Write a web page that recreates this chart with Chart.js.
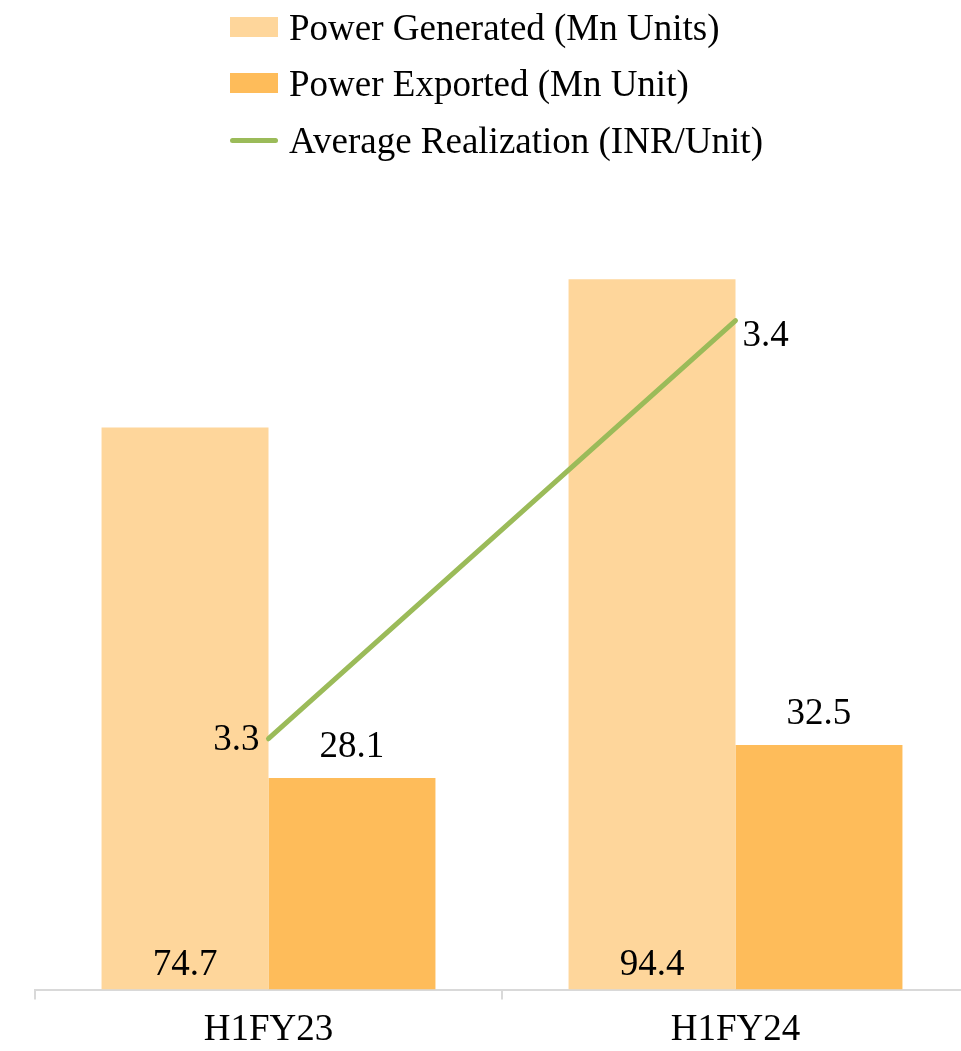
<!DOCTYPE html>
<html>
<head>
<meta charset="utf-8">
<script src="https://cdn.jsdelivr.net/npm/chart.js@4.4.0/dist/chart.umd.min.js"></script>
<style>
  html, body { margin: 0; padding: 0; background: #fff; overflow: hidden; }
  #wrap { position: relative; width: 980px; height: 1060px; }
  #legend { position: absolute; left: 230px; top: 0; font-family: "Liberation Serif", "Times New Roman", serif; font-size: 37px; color: #000; }
  .item { position: absolute; left: 0; height: 40px; display: flex; align-items: center; white-space: nowrap; }
  .sw { width: 48px; height: 20px; margin-right: 11px; }
  .ln { width: 48px; height: 5px; border-radius: 3px; margin-right: 11px; }
</style>
</head>
<body>
<div id="wrap">
  <canvas id="powerChart" width="980" height="1060"></canvas>
  <div id="legend"></div>
</div>
<script>
// Chart data
const categories = ['H1FY23', 'H1FY24'];
const powerGenerated = [74.7, 94.4];
const powerExported = [28.1, 32.5];
const avgRealization = [3.3, 3.4];

const seriesLabels = ['Power Generated (Mn Units)', 'Power Exported (Mn Unit)', 'Average Realization (INR/Unit)'];
const colors = ['#fed69b', '#febc5a', '#9bbb59'];
const fontFamily = '"Liberation Serif", "Times New Roman", serif';

// Draw the value labels next to bars and line points
const valueLabels = {
  id: 'valueLabels',
  afterDatasetsDraw(chart) {
    const ctx = chart.ctx;
    ctx.save();
    ctx.font = '37px ' + fontFamily;
    ctx.fillStyle = '#000';
    ctx.textBaseline = 'middle';

    chart.getDatasetMeta(0).data.forEach((bar, i) => {
      ctx.textAlign = 'center';
      ctx.fillText(powerGenerated[i].toFixed(1), bar.x, bar.base - 24);
    });

    chart.getDatasetMeta(1).data.forEach((bar, i) => {
      ctx.textAlign = 'center';
      ctx.fillText(powerExported[i].toFixed(1), bar.x, bar.y - 31);
    });

    chart.getDatasetMeta(2).data.forEach((pt, i) => {
      if (i === 0) {
        ctx.textAlign = 'right';
        ctx.fillText(avgRealization[i].toFixed(1), pt.x - 9, pt.y + 2);
      } else {
        ctx.textAlign = 'left';
        ctx.fillText(avgRealization[i].toFixed(1), pt.x + 7, pt.y + 16);
      }
    });
    ctx.restore();
  }
};

const chart = new Chart(document.getElementById('powerChart'), {
  type: 'bar',
  data: {
    labels: categories,
    datasets: [
      {
        label: seriesLabels[0],
        data: powerGenerated,
        backgroundColor: colors[0],
        yAxisID: 'y',
        order: 2
      },
      {
        label: seriesLabels[1],
        data: powerExported,
        backgroundColor: colors[1],
        yAxisID: 'y',
        order: 2
      },
      {
        type: 'line',
        label: seriesLabels[2],
        data: avgRealization,
        borderColor: colors[2],
        borderWidth: 5,
        borderCapStyle: 'round',
        pointRadius: 0,
        yAxisID: 'y1',
        order: 1
      }
    ]
  },
  options: {
    responsive: false,
    animation: false,
    categoryPercentage: 0.715,
    barPercentage: 1,
    layout: {
      padding: { left: 35, right: 11, top: 237, bottom: 0 }
    },
    scales: {
      x: {
        grid: {
          display: true,
          drawOnChartArea: false,
          drawTicks: true,
          tickLength: 10,
          color: '#d9d9d9',
          lineWidth: 2
        },
        border: {
          display: true,
          color: '#d9d9d9',
          width: 2
        },
        ticks: {
          color: '#000',
          padding: 8,
          font: { family: fontFamily, size: 37 }
        }
      },
      y: {
        display: false,
        min: 0,
        max: 100
      },
      y1: {
        display: false,
        min: 3.24,
        max: 3.42
      }
    },
    plugins: {
      legend: { display: false },
      tooltip: { enabled: false }
    }
  },
  plugins: [valueLabels]
});

// HTML legend stacked vertically
const legendEl = document.getElementById('legend');
const rowTops = [7, 63, 120];
chart.data.datasets.forEach((ds, i) => {
  const item = document.createElement('div');
  item.className = 'item';
  item.style.top = rowTops[i] + 'px';
  const sw = document.createElement('span');
  sw.className = ds.type === 'line' ? 'ln' : 'sw';
  sw.style.background = colors[i];
  const txt = document.createElement('span');
  txt.textContent = ds.label;
  item.appendChild(sw);
  item.appendChild(txt);
  legendEl.appendChild(item);
});
</script>
</body>
</html>
